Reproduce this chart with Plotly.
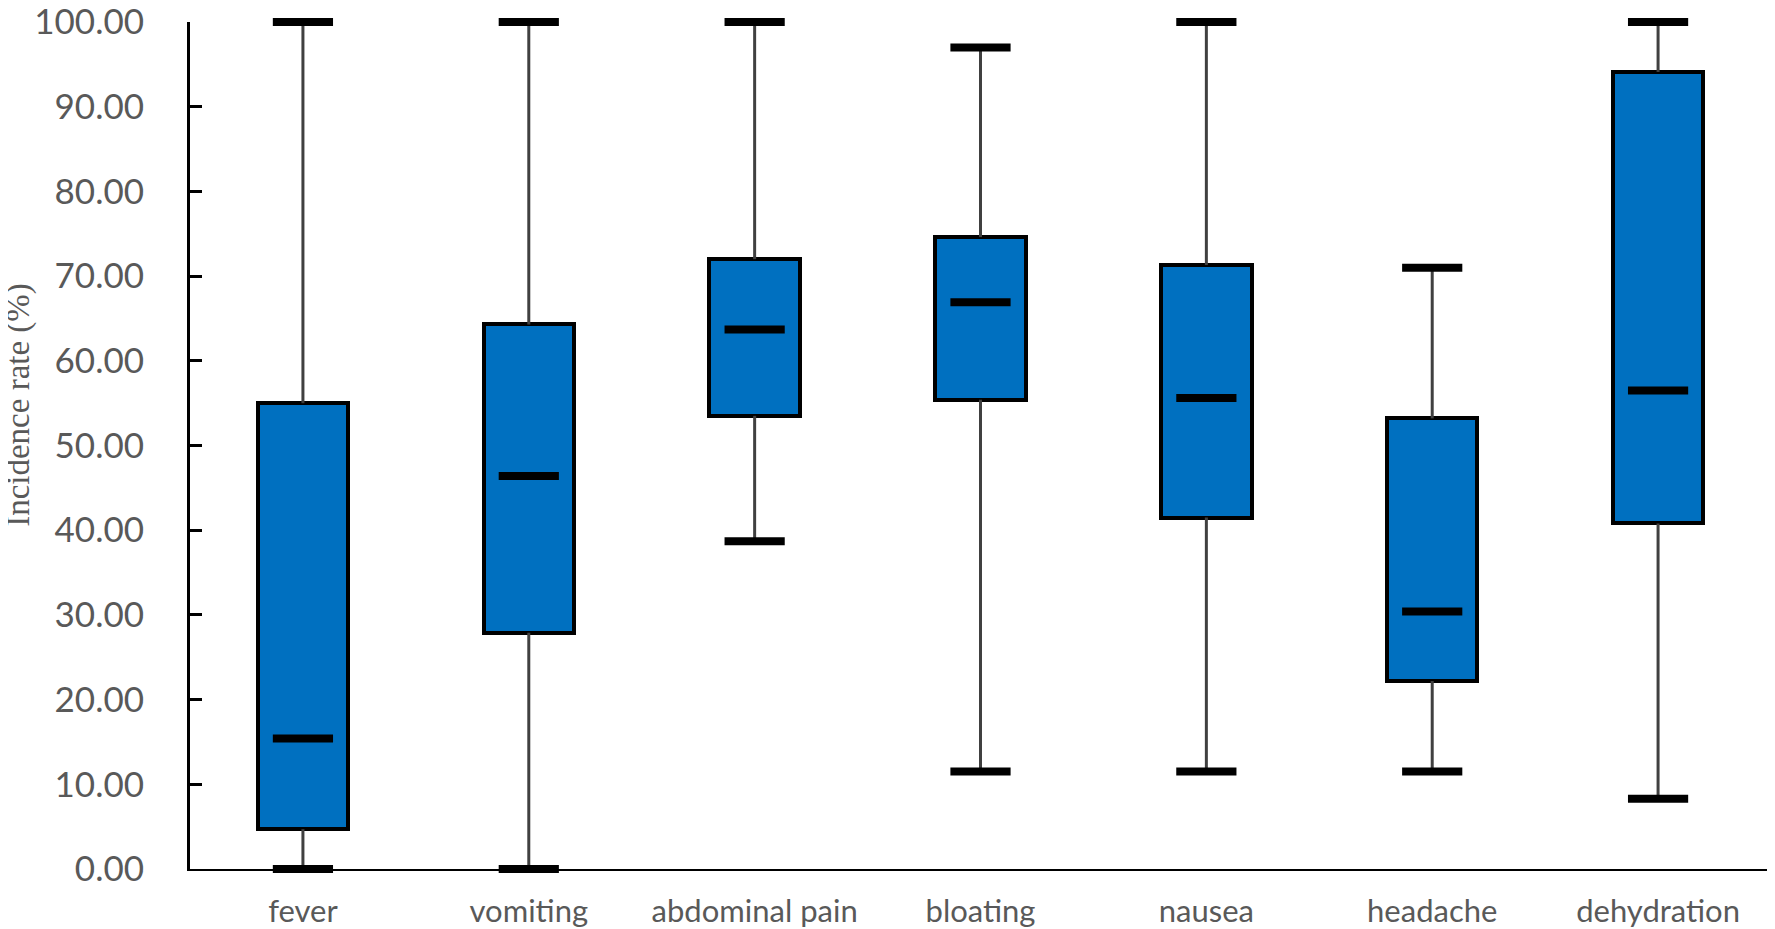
import plotly.graph_objects as go

# --- data (incidence rate, %) ---
SYMPTOMS = ["fever", "vomiting", "abdominal pain", "bloating", "nausea", "headache", "dehydration"]
MIN_VALS = [0.0, 0.0, 38.7, 11.5, 11.5, 11.5, 8.3]
Q1_VALS = [4.7, 27.9, 53.5, 55.4, 41.5, 22.2, 40.8]
MEDIAN_VALS = [15.4, 46.4, 63.7, 66.9, 55.6, 30.4, 56.5]
Q3_VALS = [55.0, 64.3, 72.0, 74.6, 71.3, 53.2, 94.1]
MAX_VALS = [100.0, 100.0, 100.0, 97.0, 100.0, 71.0, 100.0]
Y_TICKS = [0, 10, 20, 30, 40, 50, 60, 70, 80, 90, 100]

BOX_BLUE = "#0070C0"
GREY_TEXT = "#595959"

fig = go.Figure()

# boxes (q1 -> q3)
fig.add_trace(go.Bar(
    x=SYMPTOMS,
    y=[q3 - q1 for q1, q3 in zip(Q1_VALS, Q3_VALS)],
    base=Q1_VALS,
    width=0.4,
    marker=dict(color=BOX_BLUE, line=dict(color="black", width=4)),
    hoverinfo="skip",
))

# whiskers
wx, wy = [], []
for s, lo, q1, q3, hi in zip(SYMPTOMS, MIN_VALS, Q1_VALS, Q3_VALS, MAX_VALS):
    wx += [s, s, None, s, s, None]
    wy += [lo, q1, None, q3, hi, None]
fig.add_trace(go.Scatter(
    x=wx, y=wy, mode="lines",
    line=dict(color="#404040", width=3),
    hoverinfo="skip", cliponaxis=False,
))

# caps and medians as thick short dashes
for vals in (MIN_VALS, MAX_VALS, MEDIAN_VALS):
    fig.add_trace(go.Scatter(
        x=SYMPTOMS, y=vals, mode="markers",
        marker=dict(symbol="line-ew", size=43, line=dict(color="black", width=8)),
        cliponaxis=False,
    ))

# page body has an 8px margin, so the figure is shrunk to fit the window
fig.update_layout(
    width=1767, height=921,
    margin=dict(l=182, r=4, t=14, b=60),
    plot_bgcolor="white", paper_bgcolor="white",
    showlegend=False,
    bargap=0,
    font=dict(family="Lato", color=GREY_TEXT),
)

# y title as an annotation so it can sit a little above the axis middle
fig.add_annotation(
    text="Incidence rate (%)", textangle=-90,
    xref="paper", yref="paper", x=0, y=0.548,
    xanchor="center", yanchor="middle", xshift=-171,
    showarrow=False,
    font=dict(family="Liberation Serif", size=33, color=GREY_TEXT),
)

fig.update_yaxes(
    range=[0, 100],
    tickvals=Y_TICKS,
    tickformat=".2f",
    ticks="inside", ticklen=12, tickwidth=3, tickcolor="black",
    showline=True, linecolor="black", linewidth=3,
    showgrid=False, zeroline=False,
    tickfont=dict(family="Lato", size=35, color=GREY_TEXT),
    ticklabelstandoff=36,
    ticklabeloverflow="allow",
    automargin=False,
)

fig.update_xaxes(
    showline=True, linecolor="black", linewidth=2,
    ticks="", showgrid=False, zeroline=False,
    tickfont=dict(family="Lato", size=31, color=GREY_TEXT),
    ticklabelstandoff=14,
    automargin=False,
)

fig.write_html("out.html")
